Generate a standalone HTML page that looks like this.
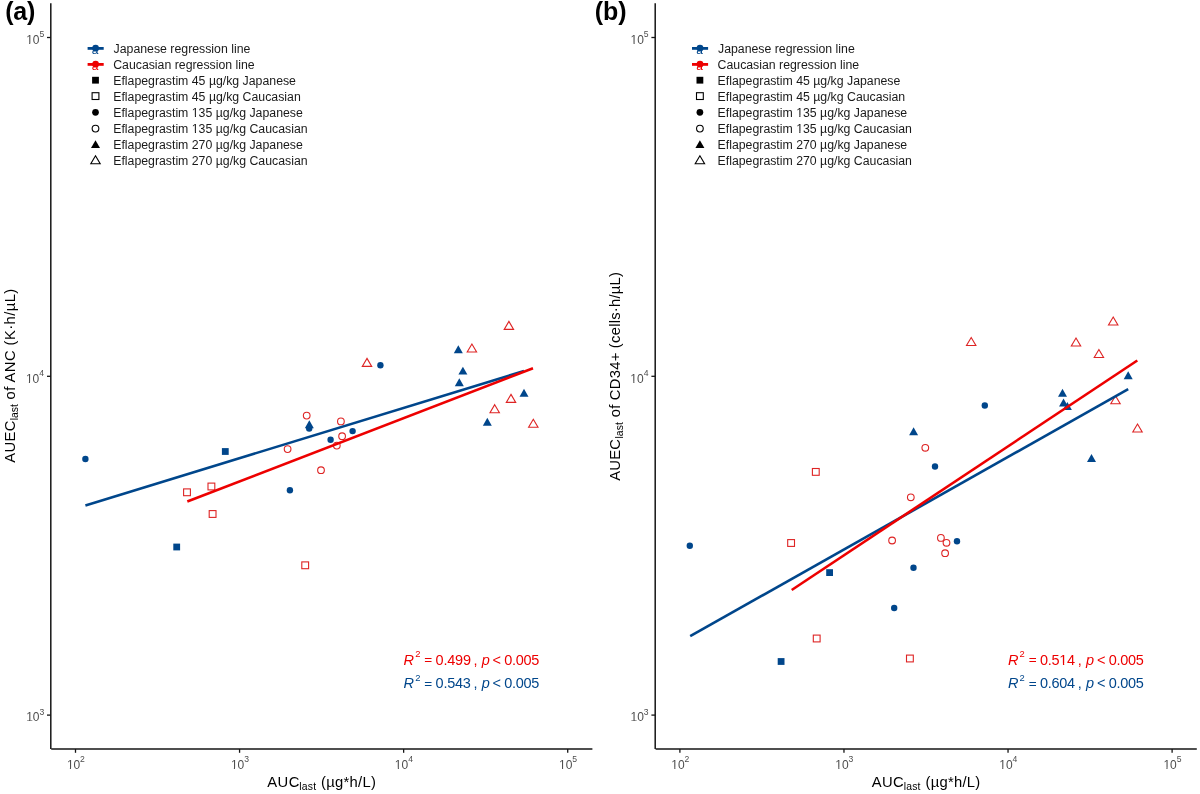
<!DOCTYPE html>
<html><head><meta charset="utf-8"><title>Eflapegrastim AUEC vs AUC</title>
<style>
html,body{margin:0;padding:0;background:#fff;width:1200px;height:794px;overflow:hidden;}
svg{display:block;will-change:transform;}
text{font-family:"Liberation Sans", sans-serif;}
</style></head><body>
<svg width="1200" height="794" viewBox="0 0 1200 794">
<rect width="1200" height="794" fill="#fff"/>
<line x1="50.8" y1="3.3" x2="50.8" y2="749" stroke="#151515" stroke-width="1.5"/>
<line x1="51.2" y1="749" x2="592.4" y2="749" stroke="#151515" stroke-width="1.5"/>
<line x1="47" y1="37.5" x2="50.8" y2="37.5" stroke="#151515" stroke-width="1.3"/>
<text x="26.14" y="43.8" font-size="12" fill="#4D4D4D">10</text><text x="39.38" y="37.1" font-size="8.6" fill="#4D4D4D">5</text>
<line x1="47" y1="376.3" x2="50.8" y2="376.3" stroke="#151515" stroke-width="1.3"/>
<text x="25.89" y="382.6" font-size="12" fill="#4D4D4D">10</text><text x="39.27" y="375.9" font-size="8.6" fill="#4D4D4D">4</text>
<line x1="47" y1="715.1" x2="50.8" y2="715.1" stroke="#151515" stroke-width="1.3"/>
<text x="26.14" y="721.4" font-size="12" fill="#4D4D4D">10</text><text x="39.4" y="714.7" font-size="8.6" fill="#4D4D4D">3</text>
<line x1="75.5" y1="749" x2="75.5" y2="752.8" stroke="#151515" stroke-width="1.3"/>
<text x="66.89" y="768.6" font-size="12" fill="#4D4D4D">10</text><text x="80.04" y="762.4" font-size="8.6" fill="#4D4D4D">2</text>
<line x1="239.57" y1="749" x2="239.57" y2="752.8" stroke="#151515" stroke-width="1.3"/>
<text x="230.88" y="768.6" font-size="12" fill="#4D4D4D">10</text><text x="244.14" y="762.4" font-size="8.6" fill="#4D4D4D">3</text>
<line x1="403.64" y1="749" x2="403.64" y2="752.8" stroke="#151515" stroke-width="1.3"/>
<text x="394.83" y="768.6" font-size="12" fill="#4D4D4D">10</text><text x="408.21" y="762.4" font-size="8.6" fill="#4D4D4D">4</text>
<line x1="567.71" y1="749" x2="567.71" y2="752.8" stroke="#151515" stroke-width="1.3"/>
<text x="559.02" y="768.6" font-size="12" fill="#4D4D4D">10</text><text x="572.26" y="762.4" font-size="8.6" fill="#4D4D4D">5</text>
<text x="267.27" y="786.6" font-size="14.8" fill="#000" textLength="32.09" lengthAdjust="spacing" transform="matrix(1 0 0 1.05 0 -39.330)">AUC</text>
<text x="299.3" y="789.7" font-size="10.4" fill="#000" textLength="16.78" lengthAdjust="spacing" transform="matrix(1 0 0 1.05 0 -39.485)">last</text>
<text x="321.08" y="786.6" font-size="14.8" fill="#000" textLength="54.74" lengthAdjust="spacing" transform="matrix(1 0 0 1.05 0 -39.330)">(µg*h/L)</text>
<text transform="translate(14.9,462.63) rotate(-90) scale(1,1.05)" font-size="14.8" fill="#000" textLength="41.99" lengthAdjust="spacing">AUEC</text>
<text transform="translate(18,420.3) rotate(-90) scale(1,1.05)" font-size="10.4" fill="#000" textLength="16.28" lengthAdjust="spacing">last</text>
<text transform="translate(14.9,399.42) rotate(-90) scale(1,1.05)" font-size="14.8" fill="#000" textLength="110.74" lengthAdjust="spacing">of ANC (K·h/µL)</text>
<text x="5.15" y="19.6" font-size="25" fill="#000" font-weight="bold" textLength="30.29" lengthAdjust="spacing">(a)</text>
<text x="113.61" y="52.8" font-size="12.3" fill="#1a1a1a">Japanese regression line</text>
<text x="113.18" y="68.8" font-size="12.3" fill="#1a1a1a">Caucasian regression line</text>
<text x="113.19" y="84.6" font-size="12.3" fill="#1a1a1a">Eflapegrastim 45 µg/kg Japanese</text>
<text x="113.19" y="100.6" font-size="12.3" fill="#1a1a1a">Eflapegrastim 45 µg/kg Caucasian</text>
<text x="113.19" y="116.6" font-size="12.3" fill="#1a1a1a">Eflapegrastim 135 µg/kg Japanese</text>
<text x="113.19" y="132.6" font-size="12.3" fill="#1a1a1a">Eflapegrastim 135 µg/kg Caucasian</text>
<text x="113.19" y="148.6" font-size="12.3" fill="#1a1a1a">Eflapegrastim 270 µg/kg Japanese</text>
<text x="113.19" y="164.6" font-size="12.3" fill="#1a1a1a">Eflapegrastim 270 µg/kg Caucasian</text>
<text x="95.2" y="54" text-anchor="middle" font-size="12" fill="#00468B">a</text>
<line x1="87.6" y1="48.4" x2="103.7" y2="48.4" stroke="#00468B" stroke-width="2.8"/>
<circle cx="95.6" cy="48.2" r="3.4" fill="#00468B"/>
<text x="95.2" y="70" text-anchor="middle" font-size="12" fill="#ED0000">a</text>
<line x1="87.6" y1="64.4" x2="103.7" y2="64.4" stroke="#ED0000" stroke-width="2.8"/>
<circle cx="95.6" cy="64.2" r="3.4" fill="#ED0000"/>
<rect x="92.1" y="76.8" width="6.8" height="6.8" fill="#000"/>
<rect x="92.1" y="92.7" width="6.8" height="6.8" fill="none" stroke="#000" stroke-width="1.1"/>
<circle cx="95.5" cy="112.3" r="3.35" fill="#000"/>
<circle cx="95.5" cy="128.6" r="3.35" fill="none" stroke="#000" stroke-width="1.1"/>
<polygon points="95.5,140.15 100,148.05 91,148.05" fill="#000"/>
<polygon points="95.5,155.8 100.2,163.8 90.8,163.8" fill="none" stroke="#000" stroke-width="1.1"/>
<rect x="183.6" y="488.9" width="6.8" height="6.8" fill="none" stroke="#DE2424" stroke-width="1.1"/>
<rect x="208" y="483.1" width="6.8" height="6.8" fill="none" stroke="#DE2424" stroke-width="1.1"/>
<rect x="209.2" y="510.6" width="6.8" height="6.8" fill="none" stroke="#DE2424" stroke-width="1.1"/>
<rect x="301.8" y="561.9" width="6.8" height="6.8" fill="none" stroke="#DE2424" stroke-width="1.1"/>
<circle cx="287.6" cy="449.1" r="3.35" fill="none" stroke="#DE2424" stroke-width="1.1"/>
<circle cx="306.7" cy="415.6" r="3.35" fill="none" stroke="#DE2424" stroke-width="1.1"/>
<circle cx="321" cy="470.2" r="3.35" fill="none" stroke="#DE2424" stroke-width="1.1"/>
<circle cx="336.8" cy="445.6" r="3.35" fill="none" stroke="#DE2424" stroke-width="1.1"/>
<circle cx="340.9" cy="421.4" r="3.35" fill="none" stroke="#DE2424" stroke-width="1.1"/>
<circle cx="342.1" cy="436.2" r="3.35" fill="none" stroke="#DE2424" stroke-width="1.1"/>
<polygon points="367,358.4 371.7,366.4 362.3,366.4" fill="none" stroke="#DE2424" stroke-width="1.1"/>
<polygon points="471.9,344 476.6,352 467.2,352" fill="none" stroke="#DE2424" stroke-width="1.1"/>
<polygon points="494.7,404.7 499.4,412.7 490,412.7" fill="none" stroke="#DE2424" stroke-width="1.1"/>
<polygon points="508.9,321.4 513.6,329.4 504.2,329.4" fill="none" stroke="#DE2424" stroke-width="1.1"/>
<polygon points="511,394.4 515.7,402.4 506.3,402.4" fill="none" stroke="#DE2424" stroke-width="1.1"/>
<polygon points="533.3,419.3 538,427.3 528.6,427.3" fill="none" stroke="#DE2424" stroke-width="1.1"/>
<rect x="173.3" y="543.6" width="6.8" height="6.8" fill="#00468B"/>
<rect x="221.9" y="448.1" width="6.8" height="6.8" fill="#00468B"/>
<circle cx="85.4" cy="459" r="3.2" fill="#00468B"/>
<circle cx="289.9" cy="490.3" r="3.2" fill="#00468B"/>
<circle cx="309.2" cy="428.5" r="3.2" fill="#00468B"/>
<circle cx="330.6" cy="439.7" r="3.2" fill="#00468B"/>
<circle cx="352.6" cy="431.1" r="3.2" fill="#00468B"/>
<circle cx="380.4" cy="365.2" r="3.2" fill="#00468B"/>
<polygon points="309.3,420.25 313.8,428.15 304.8,428.15" fill="#00468B"/>
<polygon points="458.3,345.35 462.8,353.25 453.8,353.25" fill="#00468B"/>
<polygon points="459.3,378.25 463.8,386.15 454.8,386.15" fill="#00468B"/>
<polygon points="462.9,366.65 467.4,374.55 458.4,374.55" fill="#00468B"/>
<polygon points="487.3,417.85 491.8,425.75 482.8,425.75" fill="#00468B"/>
<polygon points="524,388.85 528.5,396.75 519.5,396.75" fill="#00468B"/>
<line x1="85.4" y1="505.4" x2="524" y2="371" stroke="#00468B" stroke-width="2.6"/>
<line x1="187.3" y1="501.5" x2="533" y2="368.3" stroke="#ED0000" stroke-width="2.6"/>
<text x="403.55" y="664.6" font-size="14.5" fill="#ED0000" font-style="italic" transform="matrix(1 0 0 1.07 0 -46.522)">R</text>
<text x="415.13" y="657.1" font-size="9.4" fill="#ED0000">2</text>
<text x="424.34" y="664.4" font-size="13.6" fill="#ED0000" textLength="7.93" lengthAdjust="spacing">=</text>
<text x="435.63" y="664.6" font-size="14.5" fill="#ED0000" textLength="35.35" lengthAdjust="spacing" transform="matrix(1 0 0 1.07 0 -46.522)">0.499</text>
<text x="473.4" y="664.6" font-size="14.5" fill="#ED0000" transform="matrix(1 0 0 1.07 0 -46.522)">,</text>
<text x="481.66" y="664.6" font-size="14.5" fill="#ED0000" font-style="italic" transform="matrix(1 0 0 1.07 0 -46.522)">p</text>
<text x="492.58" y="664.6" font-size="14.5" fill="#ED0000" transform="matrix(1 0 0 1.07 0 -46.522)">&lt;</text>
<text x="504.33" y="664.6" font-size="14.5" fill="#ED0000" textLength="34.98" lengthAdjust="spacing" transform="matrix(1 0 0 1.07 0 -46.522)">0.005</text>
<text x="403.55" y="688.2" font-size="14.5" fill="#00468B" font-style="italic" transform="matrix(1 0 0 1.07 0 -48.174)">R</text>
<text x="415.13" y="680.7" font-size="9.4" fill="#00468B">2</text>
<text x="424.34" y="688" font-size="13.6" fill="#00468B" textLength="7.93" lengthAdjust="spacing">=</text>
<text x="435.63" y="688.2" font-size="14.5" fill="#00468B" textLength="35.3" lengthAdjust="spacing" transform="matrix(1 0 0 1.07 0 -48.174)">0.543</text>
<text x="473.4" y="688.2" font-size="14.5" fill="#00468B" transform="matrix(1 0 0 1.07 0 -48.174)">,</text>
<text x="481.66" y="688.2" font-size="14.5" fill="#00468B" font-style="italic" transform="matrix(1 0 0 1.07 0 -48.174)">p</text>
<text x="492.58" y="688.2" font-size="14.5" fill="#00468B" transform="matrix(1 0 0 1.07 0 -48.174)">&lt;</text>
<text x="504.33" y="688.2" font-size="14.5" fill="#00468B" textLength="34.98" lengthAdjust="spacing" transform="matrix(1 0 0 1.07 0 -48.174)">0.005</text>
<line x1="655.2" y1="3.3" x2="655.2" y2="749" stroke="#151515" stroke-width="1.5"/>
<line x1="655.6" y1="749" x2="1196.8" y2="749" stroke="#151515" stroke-width="1.5"/>
<line x1="651.4" y1="37.5" x2="655.2" y2="37.5" stroke="#151515" stroke-width="1.3"/>
<text x="630.54" y="43.8" font-size="12" fill="#4D4D4D">10</text><text x="643.78" y="37.1" font-size="8.6" fill="#4D4D4D">5</text>
<line x1="651.4" y1="376.3" x2="655.2" y2="376.3" stroke="#151515" stroke-width="1.3"/>
<text x="630.29" y="382.6" font-size="12" fill="#4D4D4D">10</text><text x="643.67" y="375.9" font-size="8.6" fill="#4D4D4D">4</text>
<line x1="651.4" y1="715.1" x2="655.2" y2="715.1" stroke="#151515" stroke-width="1.3"/>
<text x="630.54" y="721.4" font-size="12" fill="#4D4D4D">10</text><text x="643.8" y="714.7" font-size="8.6" fill="#4D4D4D">3</text>
<line x1="679.9" y1="749" x2="679.9" y2="752.8" stroke="#151515" stroke-width="1.3"/>
<text x="671.29" y="768.6" font-size="12" fill="#4D4D4D">10</text><text x="684.44" y="762.4" font-size="8.6" fill="#4D4D4D">2</text>
<line x1="843.97" y1="749" x2="843.97" y2="752.8" stroke="#151515" stroke-width="1.3"/>
<text x="835.28" y="768.6" font-size="12" fill="#4D4D4D">10</text><text x="848.54" y="762.4" font-size="8.6" fill="#4D4D4D">3</text>
<line x1="1008.04" y1="749" x2="1008.04" y2="752.8" stroke="#151515" stroke-width="1.3"/>
<text x="999.23" y="768.6" font-size="12" fill="#4D4D4D">10</text><text x="1012.61" y="762.4" font-size="8.6" fill="#4D4D4D">4</text>
<line x1="1172.11" y1="749" x2="1172.11" y2="752.8" stroke="#151515" stroke-width="1.3"/>
<text x="1163.42" y="768.6" font-size="12" fill="#4D4D4D">10</text><text x="1176.66" y="762.4" font-size="8.6" fill="#4D4D4D">5</text>
<text x="871.67" y="786.6" font-size="14.8" fill="#000" textLength="32.09" lengthAdjust="spacing" transform="matrix(1 0 0 1.05 0 -39.330)">AUC</text>
<text x="903.7" y="789.7" font-size="10.4" fill="#000" textLength="16.78" lengthAdjust="spacing" transform="matrix(1 0 0 1.05 0 -39.485)">last</text>
<text x="925.48" y="786.6" font-size="14.8" fill="#000" textLength="54.74" lengthAdjust="spacing" transform="matrix(1 0 0 1.05 0 -39.330)">(µg*h/L)</text>
<text transform="translate(619.5,480.83) rotate(-90) scale(1,1.05)" font-size="14.8" fill="#000" textLength="41.79" lengthAdjust="spacing">AUEC</text>
<text transform="translate(622.6,438.6) rotate(-90) scale(1,1.05)" font-size="10.4" fill="#000" textLength="16.48" lengthAdjust="spacing">last</text>
<text transform="translate(619.5,417.32) rotate(-90) scale(1,1.05)" font-size="14.8" fill="#000" textLength="145.34" lengthAdjust="spacing">of CD34+ (cells·h/µL)</text>
<text x="594.75" y="19.6" font-size="25" fill="#000" font-weight="bold" textLength="31.79" lengthAdjust="spacing">(b)</text>
<text x="718.01" y="52.8" font-size="12.3" fill="#1a1a1a">Japanese regression line</text>
<text x="717.58" y="68.8" font-size="12.3" fill="#1a1a1a">Caucasian regression line</text>
<text x="717.59" y="84.6" font-size="12.3" fill="#1a1a1a">Eflapegrastim 45 µg/kg Japanese</text>
<text x="717.59" y="100.6" font-size="12.3" fill="#1a1a1a">Eflapegrastim 45 µg/kg Caucasian</text>
<text x="717.59" y="116.6" font-size="12.3" fill="#1a1a1a">Eflapegrastim 135 µg/kg Japanese</text>
<text x="717.59" y="132.6" font-size="12.3" fill="#1a1a1a">Eflapegrastim 135 µg/kg Caucasian</text>
<text x="717.59" y="148.6" font-size="12.3" fill="#1a1a1a">Eflapegrastim 270 µg/kg Japanese</text>
<text x="717.59" y="164.6" font-size="12.3" fill="#1a1a1a">Eflapegrastim 270 µg/kg Caucasian</text>
<text x="699.6" y="54" text-anchor="middle" font-size="12" fill="#00468B">a</text>
<line x1="692" y1="48.4" x2="708.1" y2="48.4" stroke="#00468B" stroke-width="2.8"/>
<circle cx="700" cy="48.2" r="3.4" fill="#00468B"/>
<text x="699.6" y="70" text-anchor="middle" font-size="12" fill="#ED0000">a</text>
<line x1="692" y1="64.4" x2="708.1" y2="64.4" stroke="#ED0000" stroke-width="2.8"/>
<circle cx="700" cy="64.2" r="3.4" fill="#ED0000"/>
<rect x="696.5" y="76.8" width="6.8" height="6.8" fill="#000"/>
<rect x="696.5" y="92.7" width="6.8" height="6.8" fill="none" stroke="#000" stroke-width="1.1"/>
<circle cx="699.9" cy="112.3" r="3.35" fill="#000"/>
<circle cx="699.9" cy="128.6" r="3.35" fill="none" stroke="#000" stroke-width="1.1"/>
<polygon points="699.9,140.15 704.4,148.05 695.4,148.05" fill="#000"/>
<polygon points="699.9,155.8 704.6,163.8 695.2,163.8" fill="none" stroke="#000" stroke-width="1.1"/>
<rect x="787.7" y="539.6" width="6.8" height="6.8" fill="none" stroke="#DE2424" stroke-width="1.1"/>
<rect x="812.4" y="468.5" width="6.8" height="6.8" fill="none" stroke="#DE2424" stroke-width="1.1"/>
<rect x="813.3" y="635.1" width="6.8" height="6.8" fill="none" stroke="#DE2424" stroke-width="1.1"/>
<rect x="906.5" y="655.1" width="6.8" height="6.8" fill="none" stroke="#DE2424" stroke-width="1.1"/>
<circle cx="892.1" cy="540.5" r="3.35" fill="none" stroke="#DE2424" stroke-width="1.1"/>
<circle cx="910.8" cy="497.3" r="3.35" fill="none" stroke="#DE2424" stroke-width="1.1"/>
<circle cx="925.3" cy="447.8" r="3.35" fill="none" stroke="#DE2424" stroke-width="1.1"/>
<circle cx="940.9" cy="537.9" r="3.35" fill="none" stroke="#DE2424" stroke-width="1.1"/>
<circle cx="946.5" cy="542.8" r="3.35" fill="none" stroke="#DE2424" stroke-width="1.1"/>
<circle cx="945.1" cy="553.2" r="3.35" fill="none" stroke="#DE2424" stroke-width="1.1"/>
<polygon points="971.2,337.5 975.9,345.5 966.5,345.5" fill="none" stroke="#DE2424" stroke-width="1.1"/>
<polygon points="1076,338 1080.7,346 1071.3,346" fill="none" stroke="#DE2424" stroke-width="1.1"/>
<polygon points="1098.9,349.5 1103.6,357.5 1094.2,357.5" fill="none" stroke="#DE2424" stroke-width="1.1"/>
<polygon points="1113.2,317 1117.9,325 1108.5,325" fill="none" stroke="#DE2424" stroke-width="1.1"/>
<polygon points="1115.5,395.8 1120.2,403.8 1110.8,403.8" fill="none" stroke="#DE2424" stroke-width="1.1"/>
<polygon points="1137.5,424 1142.2,432 1132.8,432" fill="none" stroke="#DE2424" stroke-width="1.1"/>
<rect x="777.7" y="658.1" width="6.8" height="6.8" fill="#00468B"/>
<rect x="826.2" y="569.2" width="6.8" height="6.8" fill="#00468B"/>
<circle cx="689.8" cy="545.8" r="3.2" fill="#00468B"/>
<circle cx="894.2" cy="608" r="3.2" fill="#00468B"/>
<circle cx="913.5" cy="567.7" r="3.2" fill="#00468B"/>
<circle cx="935" cy="466.5" r="3.2" fill="#00468B"/>
<circle cx="957" cy="541.3" r="3.2" fill="#00468B"/>
<circle cx="984.8" cy="405.5" r="3.2" fill="#00468B"/>
<polygon points="913.6,427.25 918.1,435.15 909.1,435.15" fill="#00468B"/>
<polygon points="1062.5,388.75 1067,396.65 1058,396.65" fill="#00468B"/>
<polygon points="1063.5,398.55 1068,406.45 1059,406.45" fill="#00468B"/>
<polygon points="1067.4,402.05 1071.9,409.95 1062.9,409.95" fill="#00468B"/>
<polygon points="1091.5,454.05 1096,461.95 1087,461.95" fill="#00468B"/>
<polygon points="1128.2,371.25 1132.7,379.15 1123.7,379.15" fill="#00468B"/>
<line x1="690.2" y1="636.2" x2="1128.2" y2="389.2" stroke="#00468B" stroke-width="2.6"/>
<line x1="791.7" y1="590" x2="1137.3" y2="360.5" stroke="#ED0000" stroke-width="2.6"/>
<text x="1007.95" y="664.6" font-size="14.5" fill="#ED0000" font-style="italic" transform="matrix(1 0 0 1.07 0 -46.522)">R</text>
<text x="1019.53" y="657.1" font-size="9.4" fill="#ED0000">2</text>
<text x="1028.74" y="664.4" font-size="13.6" fill="#ED0000" textLength="7.93" lengthAdjust="spacing">=</text>
<text x="1040.03" y="664.6" font-size="14.5" fill="#ED0000" textLength="35.09" lengthAdjust="spacing" transform="matrix(1 0 0 1.07 0 -46.522)">0.514</text>
<text x="1077.8" y="664.6" font-size="14.5" fill="#ED0000" transform="matrix(1 0 0 1.07 0 -46.522)">,</text>
<text x="1086.06" y="664.6" font-size="14.5" fill="#ED0000" font-style="italic" transform="matrix(1 0 0 1.07 0 -46.522)">p</text>
<text x="1096.98" y="664.6" font-size="14.5" fill="#ED0000" transform="matrix(1 0 0 1.07 0 -46.522)">&lt;</text>
<text x="1108.73" y="664.6" font-size="14.5" fill="#ED0000" textLength="34.98" lengthAdjust="spacing" transform="matrix(1 0 0 1.07 0 -46.522)">0.005</text>
<text x="1007.95" y="688.2" font-size="14.5" fill="#00468B" font-style="italic" transform="matrix(1 0 0 1.07 0 -48.174)">R</text>
<text x="1019.53" y="680.7" font-size="9.4" fill="#00468B">2</text>
<text x="1028.74" y="688" font-size="13.6" fill="#00468B" textLength="7.93" lengthAdjust="spacing">=</text>
<text x="1040.03" y="688.2" font-size="14.5" fill="#00468B" textLength="35.09" lengthAdjust="spacing" transform="matrix(1 0 0 1.07 0 -48.174)">0.604</text>
<text x="1077.8" y="688.2" font-size="14.5" fill="#00468B" transform="matrix(1 0 0 1.07 0 -48.174)">,</text>
<text x="1086.06" y="688.2" font-size="14.5" fill="#00468B" font-style="italic" transform="matrix(1 0 0 1.07 0 -48.174)">p</text>
<text x="1096.98" y="688.2" font-size="14.5" fill="#00468B" transform="matrix(1 0 0 1.07 0 -48.174)">&lt;</text>
<text x="1108.73" y="688.2" font-size="14.5" fill="#00468B" textLength="34.98" lengthAdjust="spacing" transform="matrix(1 0 0 1.07 0 -48.174)">0.005</text>
<rect x="26.26" y="42.95" width="2.9" height="1.9" fill="#fff"/>
<rect x="30.22" y="42.95" width="2.81" height="1.9" fill="#fff"/>
<rect x="26" y="381.75" width="2.9" height="1.9" fill="#fff"/>
<rect x="29.97" y="381.75" width="2.81" height="1.9" fill="#fff"/>
<rect x="26.26" y="720.55" width="2.9" height="1.9" fill="#fff"/>
<rect x="30.22" y="720.55" width="2.81" height="1.9" fill="#fff"/>
<rect x="67.01" y="767.75" width="2.9" height="1.9" fill="#fff"/>
<rect x="70.97" y="767.75" width="2.81" height="1.9" fill="#fff"/>
<rect x="231" y="767.75" width="2.9" height="1.9" fill="#fff"/>
<rect x="234.96" y="767.75" width="2.81" height="1.9" fill="#fff"/>
<rect x="394.94" y="767.75" width="2.9" height="1.9" fill="#fff"/>
<rect x="398.9" y="767.75" width="2.81" height="1.9" fill="#fff"/>
<rect x="559.14" y="767.75" width="2.9" height="1.9" fill="#fff"/>
<rect x="563.1" y="767.75" width="2.81" height="1.9" fill="#fff"/>
<rect x="191.94" y="115.73" width="2.96" height="1.92" fill="#fff"/>
<rect x="195.99" y="115.73" width="2.86" height="1.92" fill="#fff"/>
<rect x="191.94" y="131.73" width="2.96" height="1.92" fill="#fff"/>
<rect x="195.99" y="131.73" width="2.86" height="1.92" fill="#fff"/>
<rect x="630.66" y="42.95" width="2.9" height="1.9" fill="#fff"/>
<rect x="634.62" y="42.95" width="2.81" height="1.9" fill="#fff"/>
<rect x="630.4" y="381.75" width="2.9" height="1.9" fill="#fff"/>
<rect x="634.37" y="381.75" width="2.81" height="1.9" fill="#fff"/>
<rect x="630.66" y="720.55" width="2.9" height="1.9" fill="#fff"/>
<rect x="634.62" y="720.55" width="2.81" height="1.9" fill="#fff"/>
<rect x="671.41" y="767.75" width="2.9" height="1.9" fill="#fff"/>
<rect x="675.37" y="767.75" width="2.81" height="1.9" fill="#fff"/>
<rect x="835.4" y="767.75" width="2.9" height="1.9" fill="#fff"/>
<rect x="839.36" y="767.75" width="2.81" height="1.9" fill="#fff"/>
<rect x="999.34" y="767.75" width="2.9" height="1.9" fill="#fff"/>
<rect x="1003.3" y="767.75" width="2.81" height="1.9" fill="#fff"/>
<rect x="1163.54" y="767.75" width="2.9" height="1.9" fill="#fff"/>
<rect x="1167.5" y="767.75" width="2.81" height="1.9" fill="#fff"/>
<rect x="796.34" y="115.73" width="2.96" height="1.92" fill="#fff"/>
<rect x="800.39" y="115.73" width="2.86" height="1.92" fill="#fff"/>
<rect x="796.34" y="131.73" width="2.96" height="1.92" fill="#fff"/>
<rect x="800.39" y="131.73" width="2.86" height="1.92" fill="#fff"/>
<rect x="1059.6" y="663.49" width="3.34" height="2.16" fill="#fff"/>
<rect x="1064.22" y="663.49" width="3.23" height="2.16" fill="#fff"/>
</svg>
</body></html>
